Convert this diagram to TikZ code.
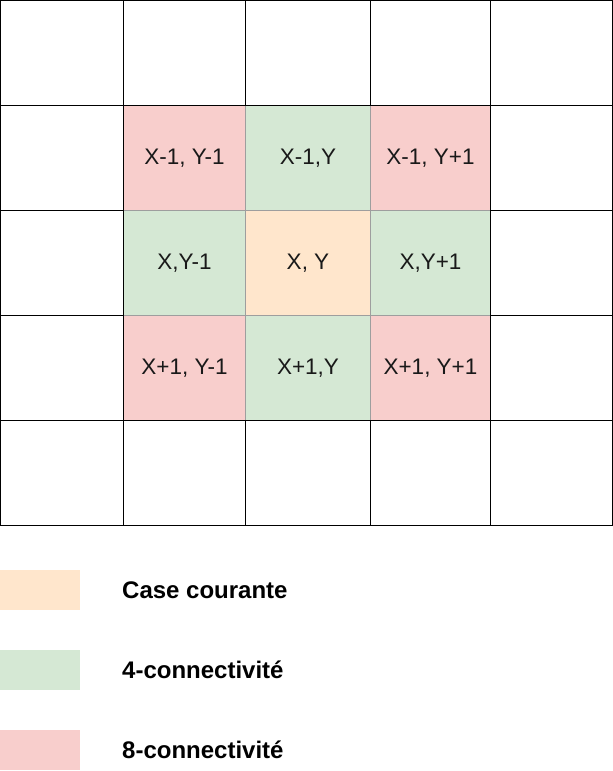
\documentclass[tikz,border=0pt]{standalone}
\usepackage{fontspec}
\setmainfont{Liberation Sans}
\definecolor{redfill}{HTML}{F8CECC}
\definecolor{greenfill}{HTML}{D5E8D4}
\definecolor{orangefill}{HTML}{FFE6CC}
\definecolor{softline}{HTML}{9E9E9E}
\begin{document}
\begin{tikzpicture}[x=1pt,y=1pt,
  cellbase/.style={rectangle, inner sep=0pt, outer sep=0pt, anchor=north west,
     font=\fontsize{22.5}{27}\selectfont, text=black!90},
  blank/.style={cellbase, draw=black, line width=1pt},
  cur/.style={cellbase, fill=orangefill, draw=softline, line width=1pt},
  four/.style={cellbase, fill=greenfill, draw=softline, line width=1pt},
  eight/.style={cellbase, fill=redfill, draw=softline, line width=1pt},
  legbox/.style={rectangle, inner sep=0pt, outer sep=0pt, anchor=north west,
     minimum width=80pt, minimum height=40pt},
  legtext/.style={anchor=west, inner sep=0pt, font=\fontsize{24}{28}\selectfont\bfseries}
]
\useasboundingbox (0,0) rectangle (613,-771);
% colored cells (drawn first so black grid lines sit on top)
\foreach \name/\sty/\xa/\xb/\ya/\yb/\txt in {
  r2c2/eight/123.5/245.5/105.5/210.5/{X-1, Y-1},
  r2c3/four/245.5/370.5/105.5/210.5/{X-1,Y},
  r2c4/eight/370.5/490.5/105.5/210.5/{X-1, Y+1},
  r3c2/four/123.5/245.5/210.5/315.5/{X,Y-1},
  r3c3/cur/245.5/370.5/210.5/315.5/{X, Y},
  r3c4/four/370.5/490.5/210.5/315.5/{X,Y+1},
  r4c2/eight/123.5/245.5/315.5/420.5/{X+1, Y-1},
  r4c3/four/245.5/370.5/315.5/420.5/{X+1,Y},
  r4c4/eight/370.5/490.5/315.5/420.5/{X+1, Y+1}}
  \node[\sty, minimum width={\xb pt-\xa pt}, minimum height={\yb pt-\ya pt}]
     (\name) at (\xa,-\ya) {\txt};
% blank cells with black borders
\foreach \name/\xa/\xb/\ya/\yb in {
  r1c1/0.5/123.5/0.5/105.5, r1c2/123.5/245.5/0.5/105.5, r1c3/245.5/370.5/0.5/105.5,
  r1c4/370.5/490.5/0.5/105.5, r1c5/490.5/612.5/0.5/105.5,
  r2c1/0.5/123.5/105.5/210.5, r2c5/490.5/612.5/105.5/210.5,
  r3c1/0.5/123.5/210.5/315.5, r3c5/490.5/612.5/210.5/315.5,
  r4c1/0.5/123.5/315.5/420.5, r4c5/490.5/612.5/315.5/420.5,
  r5c1/0.5/123.5/420.5/525.5, r5c2/123.5/245.5/420.5/525.5, r5c3/245.5/370.5/420.5/525.5,
  r5c4/370.5/490.5/420.5/525.5, r5c5/490.5/612.5/420.5/525.5}
  \node[blank, minimum width={\xb pt-\xa pt}, minimum height={\yb pt-\ya pt}]
     (\name) at (\xa,-\ya) {};
% legend
\node[legbox, fill=orangefill] (lcur) at (0,-570) {};
\node[legbox, fill=greenfill] (lfour) at (0,-650) {};
\node[legbox, fill=redfill] (leight) at (0,-730) {};
\node[legtext] (tcur) at (122,-590) {Case courante};
\node[legtext] (tfour) at (122,-670) {4-connectivité};
\node[legtext] (teight) at (122,-750) {8-connectivité};
\end{tikzpicture}
\end{document}
